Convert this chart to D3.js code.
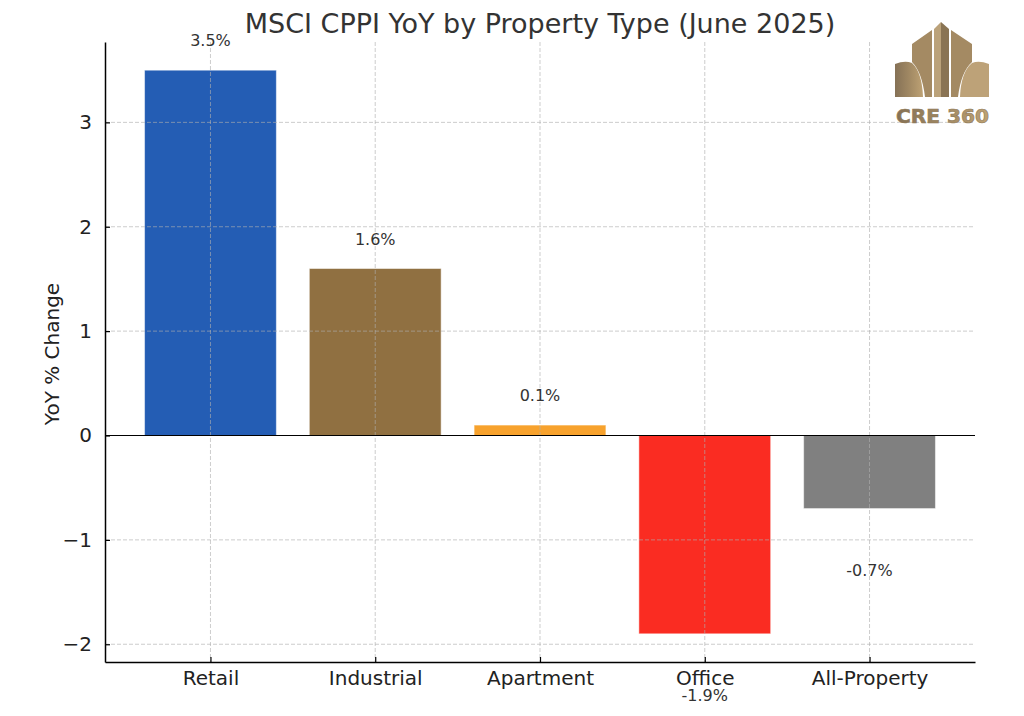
<!DOCTYPE html>
<html>
<head>
<meta charset="utf-8">
<script src="https://cdn.jsdelivr.net/npm/d3@7"></script>
<style>
  html, body { margin: 0; padding: 0; background: #fff; }
  svg { display: block; font-family: 'DejaVu Sans', sans-serif; }
</style>
</head>
<body>
<div id="chart"></div>
<script>
// Chart values
const categories = ['Retail', 'Industrial', 'Apartment', 'Office', 'All-Property'];
const yoyValues = [3.5, 1.6, 0.1, -1.9, -0.7];
const barColors = ['#245db4', '#907041', '#f7a22d', '#fa2c22', '#808080'];
const yTicks = [-2, -1, 0, 1, 2, 3];
const titleText = 'MSCI CPPI YoY by Property Type (June 2025)';

const width = 1024;
const height = 716;
const margin = { top: 42, right: 49, bottom: 54, left: 105 };
const innerWidth = width - margin.left - margin.right;
const innerHeight = height - margin.top - margin.bottom;

const svg = d3.select('#chart')
  .append('svg')
  .attr('width', width)
  .attr('height', height);

const chart = svg.append('g')
  .attr('transform', `translate(${margin.left},${margin.top})`);

// matplotlib-like limits: bars of width 0.8 at integer positions, 5% margins
const x = d3.scaleLinear()
  .domain([-0.64, categories.length - 1 + 0.64])
  .range([0, innerWidth]);
const barWidth = x(0.8) - x(0);

const y = d3.scaleLinear()
  .domain([-2.17, 3.77])
  .range([innerHeight, 0]);

// Bars
chart.selectAll('rect.bar')
  .data(categories.map((c, i) => ({ c, v: yoyValues[i], color: barColors[i], i })))
  .join('rect')
  .attr('class', 'bar')
  .attr('x', (d) => x(d.i) - barWidth / 2)
  .attr('width', barWidth)
  .attr('y', (d) => y(Math.max(0, d.v)))
  .attr('height', (d) => Math.abs(y(d.v) - y(0)))
  .attr('fill', (d) => d.color)
  .attr('stroke', '#ffffff')
  .attr('stroke-opacity', 0.5)
  .attr('stroke-width', 1);

// Grid (drawn above bars, as in the reference)
const grid = chart.append('g').attr('class', 'grid');
grid.selectAll('line.h')
  .data(yTicks)
  .join('line')
  .attr('x1', 0)
  .attr('x2', innerWidth)
  .attr('y1', (d) => y(d))
  .attr('y2', (d) => y(d))
  .attr('stroke', '#b0b0b0')
  .attr('stroke-opacity', 0.7)
  .attr('stroke-dasharray', '4,2')
  .attr('stroke-width', 0.9);
grid.selectAll('line.v')
  .data(categories.map((c, i) => i))
  .join('line')
  .attr('x1', (d) => x(d))
  .attr('x2', (d) => x(d))
  .attr('y1', 0)
  .attr('y2', innerHeight)
  .attr('stroke', '#b0b0b0')
  .attr('stroke-opacity', 0.7)
  .attr('stroke-dasharray', '4,2')
  .attr('stroke-width', 0.9);

// Zero line
chart.append('line')
  .attr('x1', 0)
  .attr('x2', innerWidth)
  .attr('y1', y(0))
  .attr('y2', y(0))
  .attr('stroke', '#000')
  .attr('stroke-width', 1.2);

// Value labels
chart.selectAll('text.value')
  .data(yoyValues.map((v, i) => ({ v, i })))
  .join('text')
  .attr('class', 'value')
  .attr('x', (d) => x(d.i))
  .attr('y', (d) => (d.v >= 0 ? y(d.v + 0.2) - 3 : y(d.v - 0.5) + 15))
  .attr('text-anchor', 'middle')
  .style('font-size', '16px')
  .style('fill', '#333')
  .text((d) => `${d.v.toFixed(1)}%`);

// Axes
const xAxis = chart.append('g')
  .attr('transform', `translate(0,${innerHeight})`)
  .call(d3.axisBottom(x)
    .tickValues(categories.map((c, i) => i))
    .tickFormat((d) => categories[d])
    .tickSizeInner(-5)
    .tickSizeOuter(0)
    .tickPadding(9));
xAxis.select('.domain').attr('stroke', '#000').attr('stroke-width', 1.5);
xAxis.selectAll('.tick line').attr('stroke', '#000').attr('stroke-width', 1.2);
xAxis.selectAll('text')
  .style('font-size', '20px')
  .style('font-family', 'DejaVu Sans, sans-serif')
  .style('fill', '#222');

const yAxis = chart.append('g')
  .call(d3.axisLeft(y)
    .tickValues(yTicks)
    .tickFormat(d3.format('d'))
    .tickSizeInner(-5)
    .tickSizeOuter(0)
    .tickPadding(13));
yAxis.select('.domain').attr('stroke', '#000').attr('stroke-width', 1.5);
yAxis.selectAll('.tick line').attr('stroke', '#000').attr('stroke-width', 1.2);
yAxis.selectAll('text')
  .style('font-size', '20px')
  .style('font-family', 'DejaVu Sans, sans-serif')
  .style('fill', '#222');

// Axis label
svg.append('text')
  .attr('transform', `translate(59,${margin.top + innerHeight / 2 + 2}) rotate(-90)`)
  .attr('text-anchor', 'middle')
  .style('font-size', '20px')
  .style('fill', '#222')
  .text('YoY % Change');

// Title
svg.append('text')
  .attr('x', margin.left + innerWidth / 2)
  .attr('y', 33)
  .attr('text-anchor', 'middle')
  .style('font-size', '27px')
  .style('fill', '#333')
  .text(titleText);

// Logo (decoration, top right)
const defs = svg.append('defs');
const grad = defs.append('linearGradient')
  .attr('id', 'gold')
  .attr('x1', '0%').attr('x2', '100%')
  .attr('y1', '0%').attr('y2', '0%');
grad.append('stop').attr('offset', '0%').attr('stop-color', '#857156');
grad.append('stop').attr('offset', '50%').attr('stop-color', '#a08863');
grad.append('stop').attr('offset', '100%').attr('stop-color', '#bea274');

const logo = svg.append('g').attr('class', 'logo');
const logoPaths = [
  { d: 'M895,97 L895,64 Q905,60 912,63 Q922,72 923,97 Z', fill: 'url(#gold)' },
  { d: 'M912,62 L912,44 L932,30 L932,97 L925,97 Q922,72 912,62 Z', fill: '#a48a63' },
  { d: 'M934,97 L934,29 L941,22 L941,97 Z', fill: '#bba27a' },
  { d: 'M941,97 L941,22 L949,29 L949,97 Z', fill: '#8a7454' },
  { d: 'M951,97 L951,30 L972,44 L972,62 Q961,72 958,97 Z', fill: '#a48a63' },
  { d: 'M989,97 L989,64 Q979,60 972,63 Q961,72 960,97 Z', fill: '#bda278' }
];
logo.selectAll('path')
  .data(logoPaths)
  .join('path')
  .attr('d', (d) => d.d)
  .attr('fill', (d) => d.fill);
logo.append('text')
  .attr('x', 896)
  .attr('y', 123)
  .attr('textLength', 93)
  .attr('lengthAdjust', 'spacingAndGlyphs')
  .style('font-family', 'DejaVu Sans Condensed, DejaVu Sans, sans-serif')
  .style('font-weight', 'bold')
  .style('font-size', '20px')
  .style('fill', 'url(#gold)')
  .style('stroke', '#8f7a58')
  .style('stroke-width', 0.6)
  .text('CRE 360');
</script>
</body>
</html>
